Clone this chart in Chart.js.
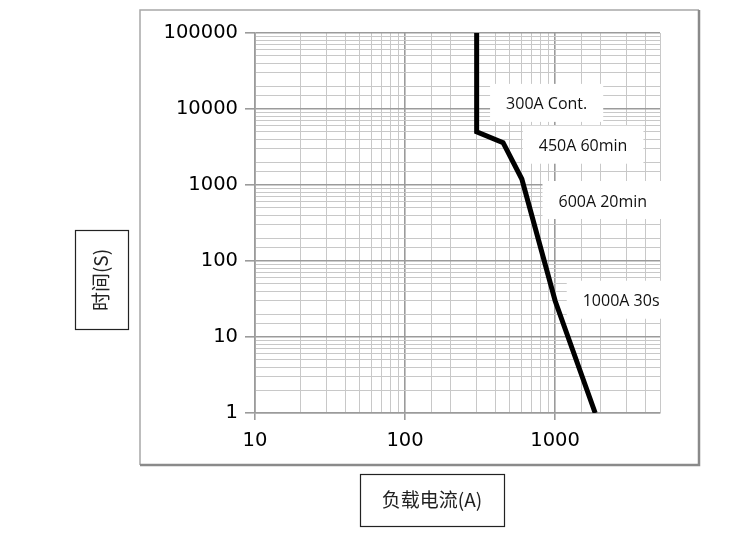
<!DOCTYPE html>
<html>
<head>
<meta charset="utf-8">
<script src="https://cdn.jsdelivr.net/npm/chart.js@4"></script>
<style>
  html, body { margin: 0; padding: 0; background: #fff; }
  canvas { display: block; }
</style>
</head>
<body>
<canvas id="curve-chart" width="750" height="536"></canvas>
<script>
// 负载电流 (A) vs 时间 (S)
const currents = [300, 300, 450, 600, 1000, 1850];
const times    = [100000, 5000, 3600, 1200, 30, 1];
const pointLabels = ['', '300A Cont.', '450A 60min', '600A 20min', '1000A 30s', ''];
const xLimits = [10, 5000];
const yLimits = [1, 100000];
const xTitle = '负载电流(A)';
const yTitle = '时间(S)';

// label offsets from their point, in px
const labelOffsets = [null, [70, -27], [80, 4], [81, 23], [66, 1]];

const isMajor = v => {
    const l = Math.log10(v);
    return Math.abs(l - Math.round(l)) < 1e-9;
};
const gridColor  = c => (c.tick && isMajor(c.tick.value)) ? '#9b9b9b' : '#c8c8c8';
const gridWidth  = c => (c.tick && isMajor(c.tick.value)) ? 1.6 : 1;
const tickColor  = c => (c.tick && isMajor(c.tick.value)) ? '#9b9b9b' : 'rgba(0,0,0,0)';
const tickText   = v => isMajor(v) ? String(v) : '';

const labelBoxes = {
    id: 'labelBoxes',
    beforeDatasetsDraw(chart) {
        const ctx = chart.ctx;
        const pts = chart.getDatasetMeta(0).data;
        ctx.save();
        ctx.font = '16px "Open Sans"';
        ctx.textAlign = 'center';
        ctx.textBaseline = 'middle';
        pointLabels.forEach((txt, i) => {
            if (!txt) return;
            const p = pts[i];
            const cx = p.x + labelOffsets[i][0];
            const cy = p.y + labelOffsets[i][1];
            const w = ctx.measureText(txt).width + 32;
            const h = 38;
            ctx.fillStyle = '#fff';
            ctx.fillRect(cx - w / 2, cy - h / 2 - 2, w, h);
            ctx.fillStyle = '#111';
            ctx.fillText(txt, cx, cy);
        });
        ctx.restore();
    }
};

const frameAndTitles = {
    id: 'frameAndTitles',
    afterDraw(chart) {
        const ctx = chart.ctx;
        ctx.save();
        // outer frame
        ctx.strokeStyle = '#a8a8a8';
        ctx.lineWidth = 1.5;
        ctx.beginPath();
        ctx.moveTo(140, 465); ctx.lineTo(140, 10); ctx.lineTo(699, 10);
        ctx.stroke();
        ctx.strokeStyle = '#8a8a8a';
        ctx.lineWidth = 2.5;
        ctx.beginPath();
        ctx.moveTo(699, 10); ctx.lineTo(699, 465); ctx.lineTo(140, 465);
        ctx.stroke();

        // axis titles in boxes
        ctx.strokeStyle = '#222';
        ctx.lineWidth = 1.2;
        ctx.strokeRect(75.5, 230.5, 53, 99);
        ctx.strokeRect(360.5, 474.5, 144, 52);
        ctx.fillStyle = '#222';
        ctx.font = '19px "Noto Sans CJK SC"';
        ctx.textAlign = 'center';
        ctx.textBaseline = 'middle';
        ctx.fillText(xTitle, 432, 500);
        ctx.translate(101, 280);
        ctx.rotate(-Math.PI / 2);
        ctx.fillText(yTitle, 0, 0);
        ctx.restore();
    }
};

new Chart(document.getElementById('curve-chart'), {
    type: 'scatter',
    data: {
        datasets: [{
            data: currents.map((x, i) => ({ x: x, y: times[i] })),
            showLine: true,
            borderColor: '#000',
            borderWidth: 5,
            pointRadius: 0,
            pointHoverRadius: 0,
            tension: 0
        }]
    },
    options: {
        responsive: false,
        animation: false,
        devicePixelRatio: 1,
        layout: { padding: { left: 140, top: 33, right: 90, bottom: 83 } },
        plugins: {
            legend: { display: false },
            tooltip: { enabled: false }
        },
        scales: {
            x: {
                type: 'logarithmic',
                min: xLimits[0],
                max: xLimits[1],
                afterFit: s => { s.height = 40; },
                border: { color: '#9b9b9b', width: 1.6 },
                grid: { color: gridColor, lineWidth: gridWidth, tickColor: tickColor, tickLength: 7 },
                ticks: {
                    callback: tickText,
                    autoSkip: false,
                    maxRotation: 0,
                    padding: 9,
                    color: '#000',
                    font: { family: '"DejaVu Sans"', size: 19.5 }
                }
            },
            y: {
                type: 'logarithmic',
                min: yLimits[0],
                max: yLimits[1],
                afterFit: s => { s.width = 115; },
                border: { color: '#9b9b9b', width: 1.6 },
                grid: { color: gridColor, lineWidth: gridWidth, tickColor: tickColor, tickLength: 10 },
                ticks: {
                    callback: tickText,
                    autoSkip: false,
                    padding: 7,
                    color: '#000',
                    font: { family: '"DejaVu Sans"', size: 19.5 }
                }
            }
        }
    },
    plugins: [labelBoxes, frameAndTitles]
});
</script>
</body>
</html>
